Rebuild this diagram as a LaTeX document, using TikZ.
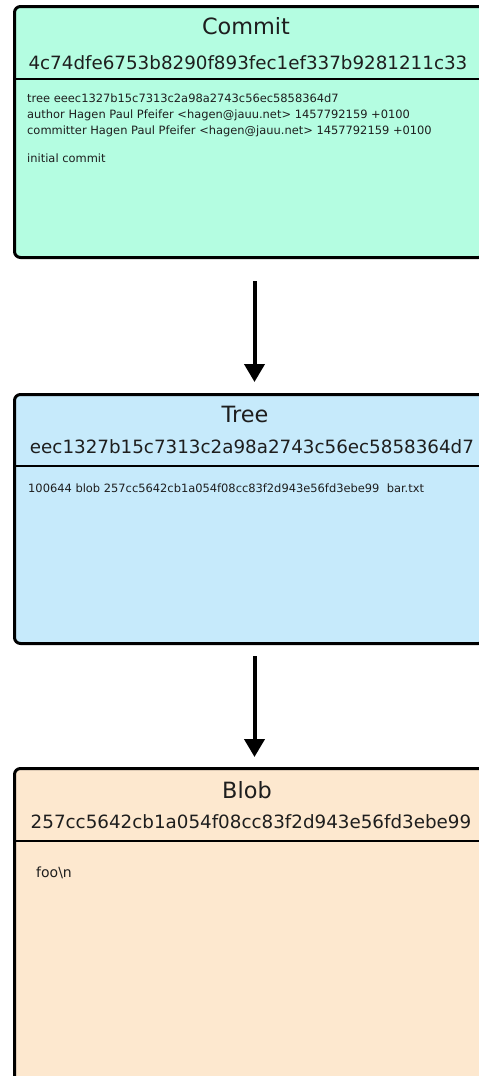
\documentclass[tikz,border=0pt]{standalone}
\usepackage{fontspec}
\setmainfont{DejaVu Sans}
\usetikzlibrary{arrows.meta}
\definecolor{commitfill}{HTML}{B4FDE1}
\definecolor{treefill}{HTML}{C6EAFB}
\definecolor{blobfill}{HTML}{FDE8CF}
\definecolor{ink}{HTML}{1E1E1E}
\begin{document}
\begin{tikzpicture}[x=1pt,y=-1pt,
  objbox/.style={draw=black, line width=3pt, rounded corners=6pt, inner sep=0pt,
    anchor=north west, minimum width=470pt},
  title/.style={font=\fontsize{22.4}{26}\selectfont, text=ink, anchor=base, inner sep=0pt},
  hash/.style={font=\fontsize{18.3}{22}\selectfont, text=ink, anchor=base, inner sep=0pt},
  body/.style={font=\fontsize{11.45}{16}\selectfont, text=ink, anchor=base west, inner sep=0pt},
  divider/.style={line width=2pt},
  link/.style={line width=4pt, -{Triangle[width=20pt,length=18pt]}}]

\useasboundingbox (0,0) rectangle (479,1076);
\clip (0,0) rectangle (479,1076);

% commit object
\node[objbox, fill=commitfill, minimum height=251pt] (commit) at (13,5) {};
\draw[divider] (commit.west |- 0,79) -- (commit.east |- 0,79);
\node[title] (commit-title) at (246,34) {Commit};
\node[hash] (commit-hash) at (248,69) {4c74dfe6753b8290f893fec1ef337b9281211c33};
\node[body] (commit-l1) at (27,102) {tree eeec1327b15c7313c2a98a2743c56ec5858364d7};
\node[body] (commit-l2) at (27,118) {author Hagen Paul Pfeifer <hagen@jauu.net> 1457792159 +0100};
\node[body] (commit-l3) at (27,134) {committer Hagen Paul Pfeifer <hagen@jauu.net> 1457792159 +0100};
\node[body] (commit-l4) at (27,162) {initial commit};

% tree object
\node[objbox, fill=treefill, minimum height=249pt] (tree) at (13,393) {};
\draw[divider] (tree.west |- 0,466) -- (tree.east |- 0,466);
\node[title] (tree-title) at (245,422) {Tree};
\node[hash] (tree-hash) at (252,453) {eec1327b15c7313c2a98a2743c56ec5858364d7};
\node[body] (tree-l1) at (28,492) {100644 blob 257cc5642cb1a054f08cc83f2d943e56fd3ebe99\ \ bar.txt};

% blob object
\node[objbox, fill=blobfill, minimum height=330pt] (blob) at (13,767) {};
\draw[divider] (blob.west |- 0,841) -- (blob.east |- 0,841);
\node[title] (blob-title) at (247,798) {Blob};
\node[hash] (blob-hash) at (251,828) {257cc5642cb1a054f08cc83f2d943e56fd3ebe99};
\node[body, font=\fontsize{14}{17}\selectfont] (blob-l1) at (36,877) {foo\textbackslash n};

% references between objects
\coordinate (c2t-from) at ([xshift=5pt,yshift=-22pt]commit.south);
\coordinate (c2t-to) at ([xshift=5pt,yshift=11pt]tree.north);
\draw[link] (c2t-from) -- (c2t-to);
\coordinate (t2b-from) at ([xshift=5pt,yshift=-11pt]tree.south);
\coordinate (t2b-to) at ([xshift=5pt,yshift=10pt]blob.north);
\draw[link] (t2b-from) -- (t2b-to);
\end{tikzpicture}
\end{document}
